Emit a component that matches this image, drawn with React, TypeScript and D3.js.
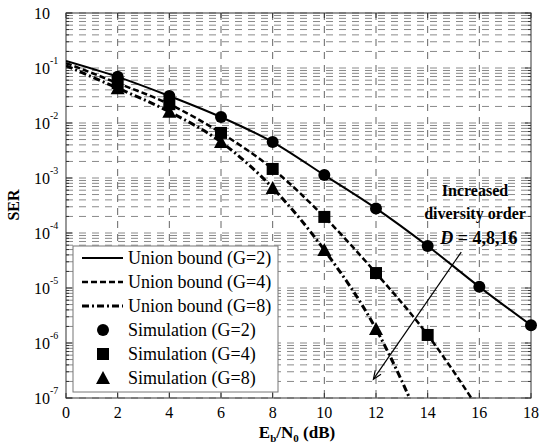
import * as d3 from "d3";
import { useEffect, useRef } from "react";

// Eb/N0 (dB) positions
const snrTicks = [0, 2, 4, 6, 8, 10, 12, 14, 16, 18];
const serTicks = [1e-7, 1e-6, 1e-5, 1e-4, 1e-3, 1e-2, 1e-1, 1];

// union bound curves, sampled every 2 dB from 0 dB
const boundG2 = [0.134, 0.069, 0.031, 0.0128, 0.0045, 0.00113, 2.8e-4, 5.8e-5, 1.05e-5, 2.1e-6];
const boundG4 = [0.123, 0.053, 0.022, 0.0066, 0.00146, 1.96e-4, 1.87e-5, 1.4e-6, 6e-8];
const boundG8 = [0.11, 0.043, 0.016, 0.0045, 6.6e-4, 4.9e-5, 1.8e-6, 1.8e-8];

// simulation points, from 2 dB
const simG2 = [0.069, 0.031, 0.0128, 0.0045, 0.00113, 2.8e-4, 5.8e-5, 1.05e-5, 2.1e-6];
const simG4 = [0.053, 0.022, 0.0066, 0.00146, 1.96e-4, 1.87e-5, 1.4e-6];
const simG8 = [0.043, 0.016, 0.0045, 6.6e-4, 4.9e-5, 1.8e-6];

const legendLabels = [
  "Union bound (G=2)",
  "Union bound (G=4)",
  "Union bound (G=8)",
  "Simulation (G=2)",
  "Simulation (G=4)",
  "Simulation (G=8)",
];

const annotationLines = ["Increased", "diversity order"];
// arrow from text to the curves: [snr, ser]
const arrowFrom: [number, number] = [15.3, 4.5e-5];
const arrowTo: [number, number] = [11.9, 2.2e-7];

const FONT = "Liberation Serif, Times New Roman, serif";

export default function App() {
  const svgRef = useRef<SVGSVGElement>(null);
  const width = 539;
  const height = 447;

  useEffect(() => {
    if (!svgRef.current) return;
    const svg = d3.select(svgRef.current);
    svg.selectAll("*").remove();

    const x = d3.scaleLinear().domain([0, 18]).range([66, 531]);
    const y = d3.scaleLog().domain([1e-7, 1]).range([398, 13]);
    const [x0, x1] = x.range();
    const [yb, yt] = y.range();

    svg.append("rect").attr("width", width).attr("height", height).attr("fill", "white");

    svg
      .append("defs")
      .append("clipPath")
      .attr("id", "plot-clip")
      .append("rect")
      .attr("x", x0)
      .attr("y", yt)
      .attr("width", x1 - x0)
      .attr("height", yb - yt);

    // minor + major log ticks
    const minorVals: number[] = [];
    for (let e = -7; e < 0; e++) {
      for (let m = 1; m <= 9; m++) minorVals.push(m * Math.pow(10, e));
    }
    minorVals.push(1);

    // Grid
    const grid = svg.append("g");
    grid
      .selectAll("line.h")
      .data(minorVals)
      .enter()
      .append("line")
      .attr("x1", x0)
      .attr("x2", x1)
      .attr("y1", (d) => y(d))
      .attr("y2", (d) => y(d))
      .attr("stroke", "#8a8a8a")
      .attr("stroke-width", 1)
      .attr("stroke-dasharray", "7,6");
    grid
      .selectAll("line.v")
      .data(snrTicks.slice(1, -1))
      .enter()
      .append("line")
      .attr("x1", (d) => x(d))
      .attr("x2", (d) => x(d))
      .attr("y1", yt)
      .attr("y2", yb)
      .attr("stroke", "#666")
      .attr("stroke-width", 1)
      .attr("stroke-dasharray", "7,6");

    // Frame + ticks
    svg
      .append("rect")
      .attr("x", x0)
      .attr("y", yt)
      .attr("width", x1 - x0)
      .attr("height", yb - yt)
      .attr("fill", "none")
      .attr("stroke", "#333")
      .attr("stroke-width", 1);

    const ticks = svg.append("g").attr("stroke", "#333").attr("stroke-width", 1);
    snrTicks.forEach((t) => {
      ticks.append("line").attr("x1", x(t)).attr("x2", x(t)).attr("y1", yb).attr("y2", yb - 5);
      ticks.append("line").attr("x1", x(t)).attr("x2", x(t)).attr("y1", yt).attr("y2", yt + 5);
    });
    minorVals.forEach((v) => {
      const major = serTicks.includes(v);
      const len = major ? 6 : 3;
      ticks.append("line").attr("x1", x0).attr("x2", x0 + len).attr("y1", y(v)).attr("y2", y(v));
      ticks.append("line").attr("x1", x1).attr("x2", x1 - len).attr("y1", y(v)).attr("y2", y(v));
    });

    // x tick labels
    svg
      .append("g")
      .selectAll("text")
      .data(snrTicks)
      .enter()
      .append("text")
      .attr("x", (d) => x(d))
      .attr("y", 418)
      .attr("text-anchor", "middle")
      .attr("font-family", FONT)
      .attr("font-size", 16)
      .text((d) => d);

    // y tick labels (10^n)
    const yLab = svg.append("g").attr("font-family", FONT);
    serTicks.forEach((v) => {
      const e = Math.round(Math.log10(v));
      yLab
        .append("text")
        .attr("x", 50)
        .attr("y", y(v) + 6)
        .attr("text-anchor", "end")
        .attr("font-size", 16)
        .text("10");
      if (e !== 0) {
        yLab
          .append("text")
          .attr("x", 50)
          .attr("y", y(v) - 4)
          .attr("font-size", 10)
          .text(String(e));
      }
    });

    // Curves
    const line = d3
      .line<number>()
      .x((_, i) => x(snrTicks[i]))
      .y((d) => y(d))
      .curve(d3.curveMonotoneX);

    const curves = svg.append("g").attr("clip-path", "url(#plot-clip)");
    const styles = [
      { data: boundG2, dash: null, w: 2 },
      { data: boundG4, dash: "6,3", w: 2.5 },
      { data: boundG8, dash: "7,3,2,3", w: 3 },
    ];
    styles.forEach((s) => {
      curves
        .append("path")
        .attr("d", line(s.data))
        .attr("fill", "none")
        .attr("stroke", "black")
        .attr("stroke-width", s.w)
        .attr("stroke-dasharray", s.dash);
    });

    // Markers
    type G = d3.Selection<SVGGElement, unknown, null, undefined>;
    const circle = (g: G, cx: number, cy: number) =>
      g.append("circle").attr("cx", cx).attr("cy", cy).attr("r", 6).attr("fill", "black");
    const square = (g: G, cx: number, cy: number) =>
      g.append("rect").attr("x", cx - 6).attr("y", cy - 6).attr("width", 12).attr("height", 12).attr("fill", "black");
    const triangle = (g: G, cx: number, cy: number) =>
      g
        .append("path")
        .attr("d", `M${cx},${cy - 7} L${cx + 7},${cy + 6} L${cx - 7},${cy + 6} Z`)
        .attr("fill", "black");

    const marks = svg.append("g");
    simG2.forEach((v, i) => circle(marks, x(snrTicks[i + 1]), y(v)));
    simG4.forEach((v, i) => square(marks, x(snrTicks[i + 1]), y(v)));
    simG8.forEach((v, i) => triangle(marks, x(snrTicks[i + 1]), y(v)));

    // Annotation
    const ann = svg.append("g").attr("font-family", FONT).attr("font-weight", "bold").attr("font-size", 16);
    annotationLines.forEach((t, i) => {
      ann.append("text").attr("x", 475).attr("y", 196 + i * 23).attr("text-anchor", "middle").text(t);
    });
    const dText = ann.append("text").attr("x", 479).attr("y", 244).attr("text-anchor", "middle").attr("font-size", 18);
    dText.append("tspan").attr("font-style", "italic").text("D");
    dText.append("tspan").text(" = 4,8,16");

    const ax1 = x(arrowFrom[0]);
    const ay1 = y(arrowFrom[1]);
    const ax2 = x(arrowTo[0]);
    const ay2 = y(arrowTo[1]);
    svg
      .append("line")
      .attr("x1", ax1)
      .attr("y1", ay1)
      .attr("x2", ax2)
      .attr("y2", ay2)
      .attr("stroke", "black")
      .attr("stroke-width", 1.2);
    const ang = Math.atan2(ay2 - ay1, ax2 - ax1);
    const hl = 9;
    const spread = 0.4;
    svg
      .append("path")
      .attr(
        "d",
        `M${ax2 - hl * Math.cos(ang - spread)},${ay2 - hl * Math.sin(ang - spread)} L${ax2},${ay2} L${ax2 - hl * Math.cos(ang + spread)},${ay2 - hl * Math.sin(ang + spread)}`,
      )
      .attr("fill", "none")
      .attr("stroke", "black")
      .attr("stroke-width", 1.2);

    // Legend
    const lg = svg.append("g");
    lg.append("rect")
      .attr("x", 73)
      .attr("y", 246)
      .attr("width", 205)
      .attr("height", 146)
      .attr("fill", "white")
      .attr("stroke", "#777")
      .attr("stroke-width", 1);
    legendLabels.forEach((lab, i) => {
      const ry = 258 + i * 24;
      if (i < 3) {
        const s = styles[i];
        lg.append("line")
          .attr("x1", 82)
          .attr("x2", 123)
          .attr("y1", ry)
          .attr("y2", ry)
          .attr("stroke", "black")
          .attr("stroke-width", s.w)
          .attr("stroke-dasharray", s.dash);
      } else if (i === 3) circle(lg, 103, ry);
      else if (i === 4) square(lg, 103, ry);
      else triangle(lg, 103, ry);
      lg.append("text")
        .attr("x", 128)
        .attr("y", ry + 6)
        .attr("font-family", FONT)
        .attr("font-size", 18)
        .text(lab);
    });

    // Axis titles
    const xt = svg
      .append("text")
      .attr("x", 297)
      .attr("y", 438)
      .attr("text-anchor", "middle")
      .attr("font-family", FONT)
      .attr("font-weight", "bold")
      .attr("font-size", 17);
    xt.append("tspan").text("E");
    xt.append("tspan").attr("dy", 4).attr("font-size", 11).text("b");
    xt.append("tspan").attr("dy", -4).text("/N");
    xt.append("tspan").attr("dy", 4).attr("font-size", 11).text("0");
    xt.append("tspan").attr("dy", -4).text(" (dB)");

    svg
      .append("text")
      .attr("transform", "translate(19,205) rotate(-90)")
      .attr("text-anchor", "middle")
      .attr("font-family", FONT)
      .attr("font-weight", "bold")
      .attr("font-size", 16)
      .text("SER");
  }, []);

  return (
    <svg
      ref={svgRef}
      width={width}
      height={height}
      style={{ position: "absolute", left: 0, top: 0, display: "block" }}
    />
  );
}
